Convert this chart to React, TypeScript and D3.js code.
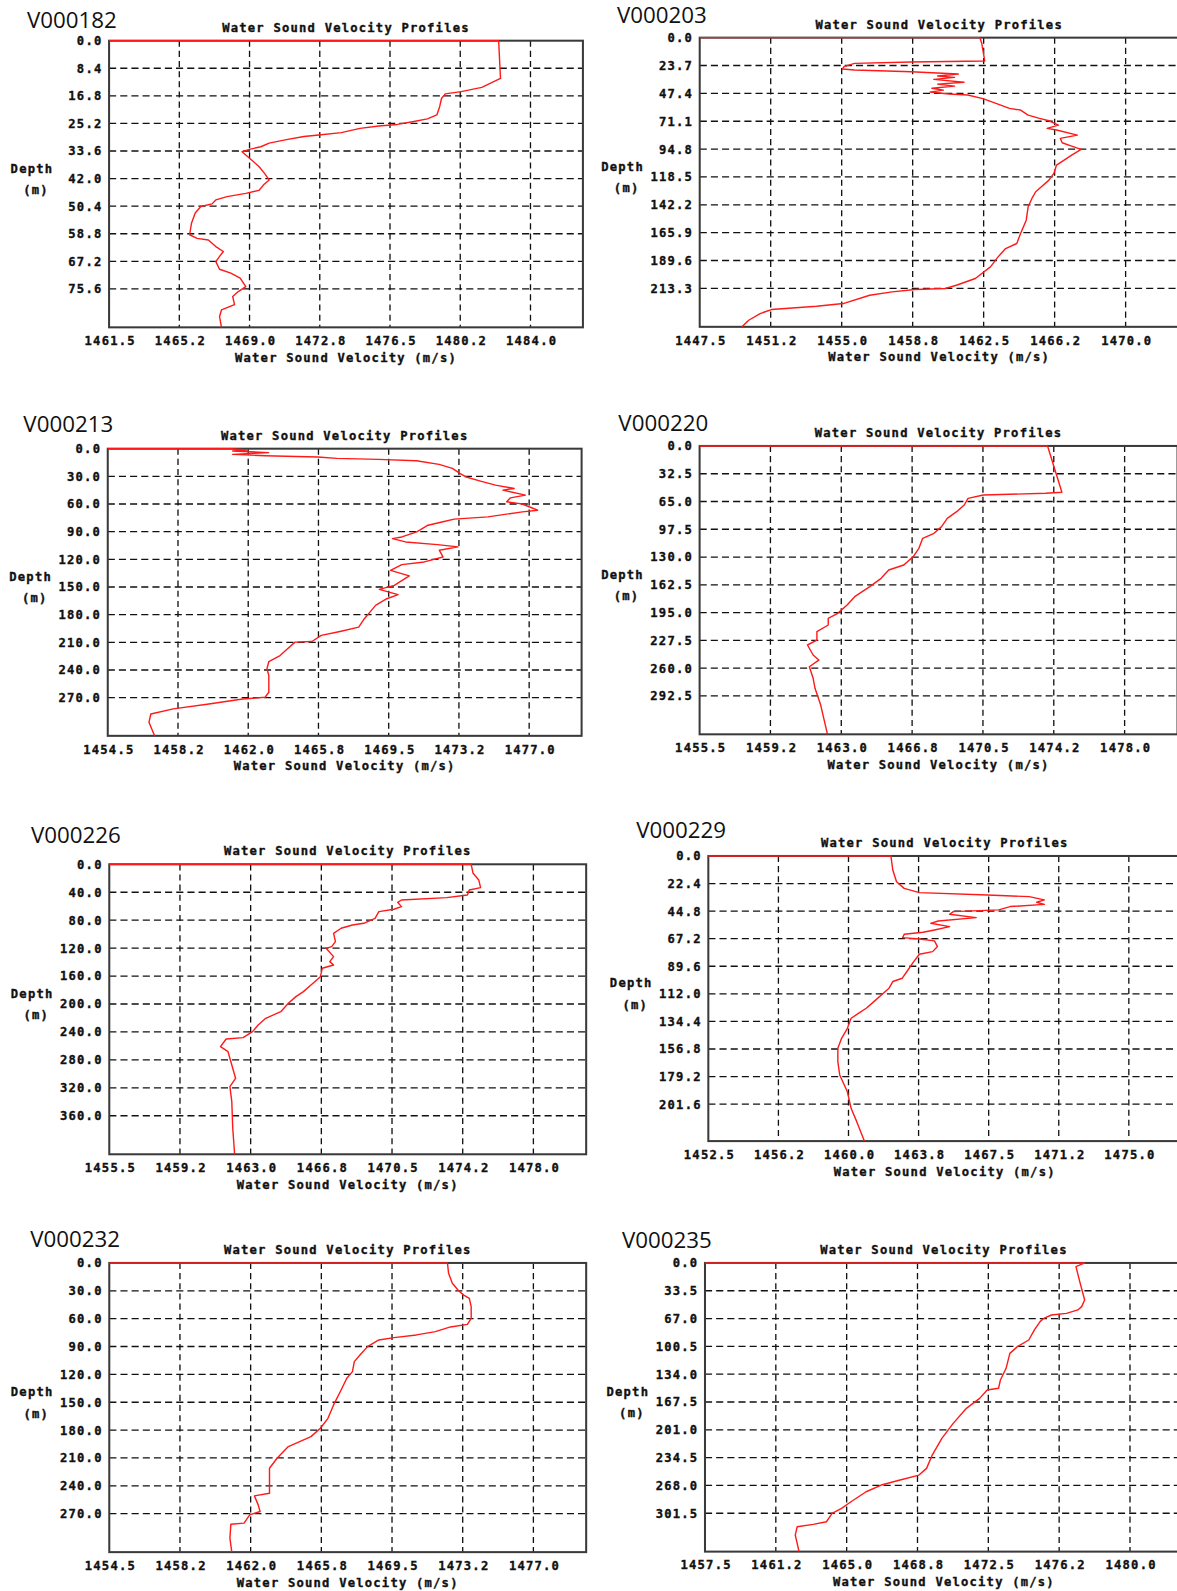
import React, { useEffect, useRef } from "react";
import * as d3 from "d3";

const stations = ["V000182", "V000203", "V000213", "V000220", "V000226", "V000229", "V000232", "V000235"];

// velocity axis tick labels (m/s) and right end of each axis
const velocityTicks = [
  ["1461.5", "1465.2", "1469.0", "1472.8", "1476.5", "1480.2", "1484.0"],
  ["1447.5", "1451.2", "1455.0", "1458.8", "1462.5", "1466.2", "1470.0"],
  ["1454.5", "1458.2", "1462.0", "1465.8", "1469.5", "1473.2", "1477.0"],
  ["1455.5", "1459.2", "1463.0", "1466.8", "1470.5", "1474.2", "1478.0"],
  ["1455.5", "1459.2", "1463.0", "1466.8", "1470.5", "1474.2", "1478.0"],
  ["1452.5", "1456.2", "1460.0", "1463.8", "1467.5", "1471.2", "1475.0"],
  ["1454.5", "1458.2", "1462.0", "1465.8", "1469.5", "1473.2", "1477.0"],
  ["1457.5", "1461.2", "1465.0", "1468.8", "1472.5", "1476.2", "1480.0"],
];
const velocityMax = [1486.8, 1472.8, 1479.8, 1480.8, 1480.8, 1477.8, 1479.8, 1482.8];

// depth axis tick labels (m) and bottom of each axis
const depthTicks = [
  ["0.0", "8.4", "16.8", "25.2", "33.6", "42.0", "50.4", "58.8", "67.2", "75.6"],
  ["0.0", "23.7", "47.4", "71.1", "94.8", "118.5", "142.2", "165.9", "189.6", "213.3"],
  ["0.0", "30.0", "60.0", "90.0", "120.0", "150.0", "180.0", "210.0", "240.0", "270.0"],
  ["0.0", "32.5", "65.0", "97.5", "130.0", "162.5", "195.0", "227.5", "260.0", "292.5"],
  ["0.0", "40.0", "80.0", "120.0", "160.0", "200.0", "240.0", "280.0", "320.0", "360.0"],
  ["0.0", "22.4", "44.8", "67.2", "89.6", "112.0", "134.4", "156.8", "179.2", "201.6"],
  ["0.0", "30.0", "60.0", "90.0", "120.0", "150.0", "180.0", "210.0", "240.0", "270.0"],
  ["0.0", "33.5", "67.0", "100.5", "134.0", "167.5", "201.0", "234.5", "268.0", "301.5"],
];
const depthMax = [87.3, 246.0, 311.4, 337.4, 415.2, 231.6, 311.4, 347.7];

// profiles: [velocity, depth]
const profile182 = [
  [1461.5, 0], [1482.3, 0], [1482.4, 11.5], [1481.4, 14.2], [1480.3, 15.5], [1479.45, 16.2], [1479.25, 17.6],
  [1479.15, 20.1], [1479.0, 22.6], [1478.5, 23.8], [1477.7, 24.7], [1476.9, 25.5], [1475.9, 26.0], [1474.9, 26.7],
  [1473.9, 28.0], [1472.7, 28.7], [1471.9, 29.2], [1470.9, 30.2], [1470.05, 31.2], [1469.6, 32.3], [1469.0, 33.1],
  [1468.6, 33.8], [1469.0, 35.8], [1469.5, 38.3], [1469.8, 40.4], [1470.05, 42.4], [1469.75, 43.9], [1469.5, 45.6],
  [1468.8, 46.5], [1467.8, 47.5], [1467.2, 48.5], [1467.0, 49.7], [1466.4, 50.5], [1466.1, 52.5], [1465.9, 55.6],
  [1465.8, 59.1], [1466.2, 60.2], [1466.8, 60.7], [1467.2, 62.7], [1467.6, 64.2], [1467.4, 65.7], [1467.2, 67.3],
  [1467.4, 69.6], [1468.0, 70.8], [1468.5, 72.3], [1468.8, 74.9], [1468.4, 76.4], [1468.1, 77.9], [1468.2, 80.4],
  [1467.5, 82.0], [1467.4, 84.0], [1467.5, 87.3],
];
const profile203 = [
  [1447.5, 0], [1462.3, 0], [1462.4, 4.8], [1462.56, 19.9], [1458.67, 20.7], [1455.68, 21.9], [1455.12, 24.7],
  [1455.04, 26.7], [1455.68, 27.5], [1458.67, 29.0], [1461.16, 30.9], [1460.07, 32.6], [1460.96, 33.8],
  [1459.87, 35.5], [1461.46, 38.0], [1460.07, 39.5], [1460.96, 41.2], [1459.77, 43.1], [1460.37, 44.6],
  [1459.67, 46.3], [1460.67, 48.0], [1461.66, 48.8], [1462.46, 51.9], [1463.26, 56.5], [1463.86, 60.2],
  [1464.45, 61.6], [1464.85, 65.9], [1465.45, 68.7], [1465.95, 70.7], [1466.45, 74.4], [1465.85, 77.2],
  [1466.35, 78.6], [1467.45, 82.9], [1466.55, 85.7], [1466.65, 89.4], [1467.15, 92.3], [1467.65, 95.1],
  [1467.15, 99.9], [1466.75, 104.2], [1466.35, 108.4], [1466.21, 115.5], [1465.95, 121.2], [1465.55, 126.9],
  [1465.25, 131.1], [1465.05, 136.8], [1464.85, 143.9], [1464.75, 155.3], [1464.45, 166.6], [1464.25, 175.1],
  [1463.66, 179.4], [1463.26, 186.5], [1462.86, 195.0], [1462.06, 204.9], [1461.06, 210.6], [1460.47, 213.4],
  [1458.87, 214.3], [1457.67, 216.3], [1456.48, 219.1], [1455.08, 226.2], [1453.68, 228.5], [1451.29, 231.3],
  [1450.69, 234.7], [1450.09, 240.4], [1449.73, 246.0],
];
const profile213 = [
  [1454.5, 0], [1461.07, 0], [1461.98, 1.4], [1461.17, 2.5], [1463.09, 4.3], [1461.17, 6.2], [1462.89, 7.6],
  [1465.72, 9.1], [1466.73, 10.5], [1468.95, 11.6], [1470.98, 13.0], [1472.19, 17.0], [1472.9, 21.4],
  [1473.3, 26.8], [1473.6, 30.4], [1474.4, 35.1], [1475.2, 39.5], [1476.2, 43.1], [1475.6, 44.9], [1476.8, 50.4],
  [1476.0, 53.3], [1475.8, 57.6], [1476.6, 59.8], [1477.0, 63.0], [1477.45, 66.7], [1476.64, 68.5],
  [1474.8, 73.9], [1473.0, 76.4], [1472.4, 79.3], [1471.6, 83.0], [1471.0, 90.2], [1470.2, 95.7], [1469.7, 97.5],
  [1470.4, 101.1], [1472.1, 104.0], [1473.2, 106.5], [1472.2, 110.1], [1472.4, 117.4], [1471.4, 122.8],
  [1470.2, 125.7], [1469.6, 131.9], [1470.6, 138.0], [1469.8, 148.2], [1469.0, 152.5], [1470.0, 158.3],
  [1469.4, 162.7], [1468.8, 169.9], [1468.5, 177.2], [1468.2, 184.4], [1467.9, 193.5], [1466.9, 198.2],
  [1465.9, 202.5], [1465.4, 209.1], [1464.5, 209.8], [1464.1, 217.0], [1463.7, 224.3], [1463.1, 230.8],
  [1463.0, 238.8], [1463.1, 246.0], [1463.1, 264.1], [1462.9, 269.6], [1461.7, 271.4], [1459.9, 276.8],
  [1458.0, 282.2], [1456.8, 287.7], [1456.7, 296.7], [1457.0, 311.4],
];
const profile220 = [
  [1455.5, 0], [1473.92, 0], [1474.68, 54.2], [1473.82, 55.4], [1470.52, 57.4], [1469.71, 61.3], [1469.51, 69.1],
  [1469.11, 76.9], [1468.61, 84.7], [1468.31, 94.4], [1467.91, 102.2], [1467.31, 108.1], [1467.11, 119.8],
  [1466.81, 129.5], [1466.31, 139.3], [1465.51, 145.1], [1465.11, 154.9], [1464.51, 164.6], [1463.71, 176.4],
  [1463.31, 186.1], [1462.81, 195.9], [1462.31, 201.7], [1462.31, 209.5], [1461.71, 217.3], [1461.71, 227.1],
  [1461.21, 232.9], [1461.51, 244.6], [1461.81, 250.5], [1461.31, 258.3], [1461.51, 271.9], [1461.61, 283.6],
  [1461.91, 303.2], [1462.27, 337.4],
];
const profile226 = [
  [1455.5, 0], [1474.7, 0], [1474.8, 12.9], [1475.1, 22.4], [1475.2, 33.4], [1474.6, 36.8], [1474.5, 43.9],
  [1473.4, 47.7], [1471.0, 51.1], [1470.8, 54.4], [1471.0, 60.6], [1470.6, 64.4], [1469.8, 67.8], [1469.6, 77.3],
  [1469.0, 84.5], [1468.4, 86.9], [1467.8, 91.6], [1467.4, 98.8], [1467.5, 110.7], [1467.3, 117.9],
  [1467.0, 120.3], [1467.4, 132.2], [1467.2, 139.4], [1467.4, 144.2], [1466.8, 148.9], [1466.7, 160.9],
  [1466.2, 172.8], [1465.8, 182.3], [1465.4, 189.5], [1465.0, 199.0], [1464.6, 211.0], [1463.8, 220.5],
  [1463.4, 230.1], [1463.1, 239.6], [1462.6, 248.2], [1461.7, 250.1], [1461.4, 261.1], [1461.8, 268.3],
  [1462.0, 287.4], [1462.2, 306.4], [1461.9, 318.4], [1462.0, 339.9], [1462.05, 378.0], [1462.15, 415.2],
];
const profile229 = [
  [1452.5, 0], [1462.27, 0], [1462.37, 11.4], [1462.57, 20.9], [1462.98, 26.3], [1463.79, 29.8], [1467.44, 31.7],
  [1469.67, 33.0], [1470.48, 35.7], [1470.07, 37.6], [1470.48, 39.3], [1468.65, 41.1], [1468.04, 43.8],
  [1465.61, 45.2], [1465.41, 47.4], [1466.83, 50.1], [1464.8, 52.8], [1464.4, 54.7], [1465.41, 57.4],
  [1464.6, 60.1], [1463.99, 62.0], [1462.98, 63.6], [1462.9, 66.3], [1463.79, 67.4], [1464.6, 69.0],
  [1464.76, 73.6], [1464.5, 77.7], [1463.79, 79.8], [1463.49, 85.8], [1463.18, 92.6], [1462.88, 99.3],
  [1462.37, 102.0], [1462.17, 107.4], [1461.77, 112.8], [1461.36, 118.3], [1460.95, 123.7], [1460.55, 127.7],
  [1460.14, 131.8], [1459.94, 140.0], [1459.63, 148.1], [1459.43, 156.2], [1459.43, 167.1], [1459.53, 177.9],
  [1459.94, 191.5], [1460.14, 205.0], [1460.44, 215.8], [1460.85, 231.6],
];
const profile232 = [
  [1454.5, 0], [1472.44, 0], [1472.5, 11.1], [1472.7, 21.9], [1473.0, 29.1], [1473.24, 33.8], [1473.6, 38.1],
  [1473.7, 47.0], [1473.7, 59.6], [1473.5, 66.1], [1472.6, 68.9], [1471.8, 73.9], [1470.8, 77.5], [1469.6, 80.4],
  [1468.8, 82.9], [1468.2, 90.1], [1467.8, 99.1], [1467.5, 106.3], [1467.4, 117.0], [1467.1, 124.2],
  [1466.8, 136.8], [1466.4, 152.9], [1466.1, 167.3], [1465.7, 178.0], [1465.2, 187.0], [1464.6, 192.3],
  [1464.0, 197.7], [1463.4, 210.3], [1463.0, 221.1], [1463.0, 235.4], [1463.0, 248.0], [1462.2, 250.8],
  [1462.4, 260.5], [1462.5, 267.7], [1461.95, 271.3], [1461.65, 280.2], [1460.95, 281.3], [1460.9, 296.4],
  [1461.0, 311.4],
];
const profile235 = [
  [1457.5, 0], [1477.6, 0], [1477.14, 4.4], [1477.34, 22.5], [1477.6, 44.6], [1477.44, 52.6], [1477.24, 56.6],
  [1476.64, 60.7], [1475.84, 62.7], [1475.44, 66.7], [1475.24, 70.7], [1474.94, 80.7], [1474.64, 92.8],
  [1474.04, 100.8], [1473.64, 108.9], [1473.44, 126.9], [1473.14, 141.0], [1473.04, 151.0], [1472.44, 153.0],
  [1472.04, 163.1], [1471.34, 175.1], [1470.64, 193.2], [1470.04, 211.3], [1469.53, 231.4], [1469.23, 247.4],
  [1468.83, 255.5], [1467.83, 261.5], [1466.83, 267.5], [1466.03, 275.6], [1465.23, 287.6], [1464.73, 295.6],
  [1464.23, 301.7], [1463.93, 311.7], [1463.23, 314.9], [1462.38, 317.7], [1462.28, 327.8], [1462.48, 347.7],
];
const profiles = [profile182, profile203, profile213, profile220, profile226, profile229, profile232, profile235];

// plot frames on the page (1160 x 1568 units) and station label anchors
const frames = [
  { left: 107.5, top: 40.1, w: 467, h: 282.5, lx: 26.6, ly: 27.6 },
  { left: 689.6, top: 37.1, w: 472, h: 285, lx: 608, ly: 22.7 },
  { left: 106.2, top: 442.2, w: 467, h: 283, lx: 23, ly: 425.4 },
  { left: 689.5, top: 439.5, w: 471, h: 284.2, lx: 609.4, ly: 424.8 },
  { left: 107.7, top: 851.8, w: 470, h: 285.8, lx: 30.5, ly: 831 },
  { left: 698.1, top: 843.6, w: 466, h: 281, lx: 627, ly: 826.2 },
  { left: 107.7, top: 1244.7, w: 470, h: 285, lx: 29.8, ly: 1228.6 },
  { left: 694.8, top: 1244.7, w: 471, h: 284.5, lx: 613, ly: 1230 },
];

const MONO = "'DejaVu Sans Mono', monospace";

const evenTicks = (labels) => {
  const a = parseFloat(labels[0]);
  const b = parseFloat(labels[labels.length - 1]);
  const step = (b - a) / (labels.length - 1);
  return labels.map((_, k) => a + k * step);
};

// heavy bitmap-like text look
const monoStyle = (sel) =>
  sel
    .attr("font-family", MONO)
    .attr("font-size", 12)
    .attr("font-weight", "bold")
    .attr("letter-spacing", 1.2)
    .attr("fill", "#111")
    .attr("stroke", "#111")
    .attr("stroke-width", 0.35);

const App = () => {
  const svgRef = useRef(null);

  useEffect(() => {
    const svg = d3.select(svgRef.current);
    svg.selectAll("*").remove();

    svg.append("rect").attr("width", 1160).attr("height", 1568).attr("fill", "#fff");

    frames.forEach((f, i) => {
      const xTicks = evenTicks(velocityTicks[i]);
      const yTicks = evenTicks(depthTicks[i]);

      const x = d3
        .scaleLinear()
        .domain([xTicks[0], velocityMax[i]])
        .range([f.left, f.left + f.w]);
      const y = d3.scaleLinear().domain([0, depthMax[i]]).range([f.top, f.top + f.h]);

      const g = svg.append("g");

      // dashed grid
      g.selectAll("line.vgrid")
        .data(xTicks.slice(1))
        .enter()
        .append("line")
        .attr("x1", (d) => x(d))
        .attr("x2", (d) => x(d))
        .attr("y1", f.top)
        .attr("y2", f.top + f.h)
        .attr("stroke", "#111")
        .attr("stroke-width", 1.3)
        .attr("stroke-dasharray", "6,4");

      g.selectAll("line.hgrid")
        .data(yTicks.slice(1))
        .enter()
        .append("line")
        .attr("x1", f.left)
        .attr("x2", f.left + f.w)
        .attr("y1", (d) => y(d))
        .attr("y2", (d) => y(d))
        .attr("stroke", "#111")
        .attr("stroke-width", 1.3)
        .attr("stroke-dasharray", "7,4");

      g.append("rect")
        .attr("x", f.left)
        .attr("y", f.top)
        .attr("width", f.w)
        .attr("height", f.h)
        .attr("fill", "none")
        .attr("stroke", "#3a3a3a")
        .attr("stroke-width", 2);

      // profile line
      const clipId = `clip-${i}`;
      svg
        .append("clipPath")
        .attr("id", clipId)
        .append("rect")
        .attr("x", f.left - 1)
        .attr("y", f.top - 1.5)
        .attr("width", f.w + 2)
        .attr("height", f.h + 2);

      const line = d3
        .line()
        .x((d) => x(d[0]))
        .y((d) => y(d[1]));

      g.append("path")
        .attr("d", line(profiles[i]))
        .attr("fill", "none")
        .attr("stroke", "#ff1a1a")
        .attr("stroke-width", 1.4)
        .attr("stroke-linejoin", "round")
        .attr("clip-path", `url(#${clipId})`);

      // axes
      const xAxis = d3
        .axisBottom(x)
        .tickValues(xTicks)
        .tickFormat((d, k) => velocityTicks[i][k])
        .tickSize(0)
        .tickPadding(9);
      const xg = g.append("g").attr("transform", `translate(0,${f.top + f.h})`).call(xAxis);
      xg.select(".domain").remove();
      xg.attr("font-family", MONO).attr("font-size", 12).attr("font-weight", "bold");
      monoStyle(xg.selectAll("text")).attr("dx", 0.6);

      const yAxis = d3
        .axisLeft(y)
        .tickValues(yTicks)
        .tickFormat((d, k) => depthTicks[i][k])
        .tickSize(0)
        .tickPadding(6.5);
      const yg = g.append("g").attr("transform", `translate(${f.left},0)`).call(yAxis);
      yg.select(".domain").remove();
      yg.attr("font-family", MONO).attr("font-size", 12).attr("font-weight", "bold");
      monoStyle(yg.selectAll("text"));

      const cx = f.left + f.w / 2;
      const cy = f.top + f.h / 2;

      const label = (tx, ty, s) =>
        monoStyle(
          g.append("text").attr("x", tx).attr("y", ty).attr("text-anchor", "middle")
        ).text(s);

      label(cx, f.top - 9, "Water Sound Velocity Profiles");
      label(cx, f.top + f.h + 34, "Water Sound Velocity (m/s)");
      label(f.left - 76, cy - 11, "Depth");
      label(f.left - 72, cy + 10, "(m)");

      g.append("text")
        .attr("x", f.lx)
        .attr("y", f.ly)
        .attr("font-family", "'Open Sans', sans-serif")
        .attr("font-size", 22)
        .attr("fill", "#111")
        .text(stations[i]);
    });
  }, []);

  return (
    <svg
      ref={svgRef}
      width={1177}
      height={1591}
      viewBox="0 0 1160 1568"
      style={{ position: "absolute", left: 0, top: 0, background: "#fff" }}
    ></svg>
  );
};

export default App;
